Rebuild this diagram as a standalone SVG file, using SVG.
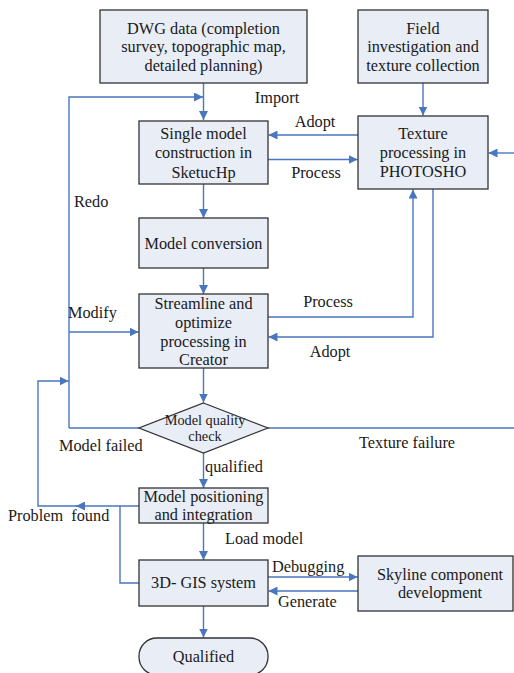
<svg xmlns="http://www.w3.org/2000/svg" width="514" height="673" viewBox="0 0 514 673">
<defs>
<marker id="ah" viewBox="0 0 10 10" refX="10" refY="5" markerWidth="9" markerHeight="9" markerUnits="userSpaceOnUse" orient="auto">
<path d="M0,0 L10,5 L0,10 Z" fill="#4a76bf"/>
</marker>
<style>
.box{fill:#e8edf6;stroke:#333;stroke-width:1.3}
.c{fill:none;stroke:#4a76bf;stroke-width:1.4}
.a{marker-end:url(#ah)}
.m{text-anchor:middle}
.s{font-size:14.3px}
</style>
</defs>
<rect width="514" height="673" fill="#fff"/>
<g id="connectors">
<path class="c a" d="M203.5,83 V120"/>
<path class="c a" d="M69,428 V97 H203"/>
<path class="c a" d="M423,83 V115.5"/>
<path class="c a" d="M358,135 H268.5"/>
<path class="c a" d="M268,159.5 H357.5"/>
<path class="c a" d="M514,153 H488.5"/>
<path class="c a" d="M203.5,184 V218"/>
<path class="c a" d="M203.5,268 V294"/>
<path class="c a" d="M268,317 H413 V189.5"/>
<path class="c a" d="M433,189 V337 H268.5"/>
<path class="c a" d="M69,332 H138.5"/>
<path class="c a" d="M203.5,368 V402.5"/>
<path class="c" d="M139,428 H69"/>
<path class="c" d="M268,428 H514"/>
<path class="c a" d="M203.5,453 V488"/>
<path class="c a" d="M139,506 H76"/>
<path class="c a" d="M78,506 H38 V381 H68.5"/>
<path class="c" d="M120,506 V583 H139"/>
<path class="c a" d="M203.5,523 V560"/>
<path class="c a" d="M268,577 H357.5"/>
<path class="c a" d="M358,591 H268.5"/>
<path class="c a" d="M203.5,606 V637.5"/>
</g>
<g font-family="Liberation Serif, Times New Roman, serif" font-size="16.3" fill="#1a1a1a">
<g id="dwg">
<rect class="box" x="100" y="10" width="207" height="73"/>
<text class="m" x="203.5" y="34">DWG data (completion</text>
<text class="m" x="203.5" y="52">survey, topographic map,</text>
<text class="m" x="203.5" y="71">detailed planning)</text>
</g>
<g id="field">
<rect class="box" x="358" y="10" width="130" height="73"/>
<text class="m" x="423" y="34">Field</text>
<text class="m" x="423" y="52">investigation and</text>
<text class="m" x="423" y="71">texture collection</text>
</g>
<g id="single">
<rect class="box" x="139" y="121" width="129" height="63"/>
<text class="m" x="203.5" y="139">Single model</text>
<text class="m" x="203.5" y="158">construction in</text>
<text class="m" x="203.5" y="178">SketucHp</text>
</g>
<g id="texture">
<rect class="box" x="358" y="116" width="130" height="73"/>
<text class="m" x="423" y="139">Texture</text>
<text class="m" x="423" y="158">processing in</text>
<text class="m" x="423" y="177">PHOTOSHO</text>
</g>
<g id="conversion">
<rect class="box" x="139" y="218" width="129" height="50"/>
<text class="m" x="203.5" y="249">Model conversion</text>
</g>
<g id="streamline">
<rect class="box" x="139" y="294" width="129" height="74"/>
<text class="m" x="203.5" y="309">Streamline and</text>
<text class="m" x="203.5" y="328">optimize</text>
<text class="m" x="203.5" y="347">processing in</text>
<text class="m" x="203.5" y="365">Creator</text>
</g>
<g id="check">
<path class="box" d="M203.5,403 L268,428 L203.5,453 L139,428 Z"/>
<text class="m s" x="205" y="425">Model quality</text>
<text class="m s" x="205" y="441">check</text>
</g>
<g id="positioning">
<rect class="box" x="139" y="488" width="129" height="35"/>
<text class="m" x="203.5" y="502">Model positioning</text>
<text class="m" x="203.5" y="520">and integration</text>
</g>
<g id="gis">
<rect class="box" x="139" y="560" width="129" height="46"/>
<text class="m" x="203.5" y="588">3D- GIS system</text>
</g>
<g id="skyline">
<rect class="box" x="358" y="556" width="155" height="55"/>
<text class="m" x="440" y="580">Skyline component</text>
<text class="m" x="440" y="598">development</text>
</g>
<g id="qualified">
<rect class="box" x="139" y="638" width="129" height="37" rx="18"/>
<text class="m" x="203.5" y="662">Qualified</text>
</g>
<g id="labels">
<text class="m" x="277" y="103">Import</text>
<text class="m" x="315" y="127">Adopt</text>
<text class="m" x="316" y="178">Process</text>
<text x="74" y="207">Redo</text>
<text x="68" y="318">Modify</text>
<text class="m" x="328" y="307">Process</text>
<text class="m" x="330" y="357">Adopt</text>
<text x="59" y="451">Model failed</text>
<text x="359" y="448">Texture failure</text>
<text x="205" y="472">qualified</text>
<text x="8" y="521" xml:space="preserve">Problem  found</text>
<text x="225" y="544">Load model</text>
<text x="272" y="572">Debugging</text>
<text x="278" y="607">Generate</text>
</g>
</g>
</svg>
